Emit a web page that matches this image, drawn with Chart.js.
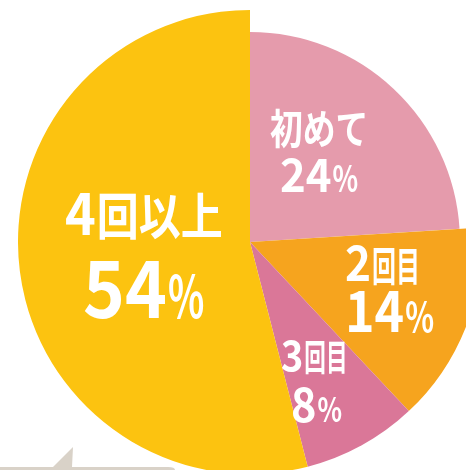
<!DOCTYPE html>
<html>
<head>
<meta charset="utf-8">
<script src="https://cdn.jsdelivr.net/npm/chart.js@4/dist/chart.umd.min.js"></script>
<style>
  html, body { margin: 0; padding: 0; background: #fff; }
  body { width: 466px; height: 470px; overflow: hidden; position: relative; }
  #deco { position: absolute; left: 0; top: 0; }
  #wrap { position: absolute; left: 18px; top: 10px; width: 464px; height: 464px; }
</style>
</head>
<body>
<svg id="deco" width="466" height="470">
  <path d="M0,467 L53,467 L73,447 L72,467 L168,467 Q175,467 175,470 L0,470 Z" fill="#D9D2C8"/>
</svg>
<div id="wrap"><canvas id="pie" width="464" height="464"></canvas></div>
<script>
// data
const categories = ["初めて", "2回目", "3回目", "4回以上"];
const values     = [24, 14, 8, 54];
const colors     = ["#E59BAC", "#F6A41E", "#DA7798", "#FCC310"];

// label placement, page coords (wrapper offset is taken off below)
// each font entry: [size px, horizontal scale]
const OFF_X = 18, OFF_Y = 10;
const labelStyle = [
    { x1: 270, y1: 144, x2: 280, y2: 192, head: [41, 0.8],  rest: [41, 0.8],  num: [46, 0.95], pct: [37, 0.72] },
    { x1: 345, y1: 281, x2: 345, y2: 332, head: [49, 0.9],  rest: [40, 0.6],  num: [57, 0.88], pct: [40, 0.75] },
    { x1: 281, y1: 371, x2: 291, y2: 422, head: [42, 0.9],  rest: [36, 0.6],  num: [47, 0.92], pct: [34, 0.75] },
    { x1: 65,  y1: 235, x2: 83,  y2: 318, head: [58, 0.9],  rest: [50, 0.84], num: [79, 0.9],  pct: [58, 0.65] }
];
const FONT = '"Noto Sans CJK JP", "Noto Sans", sans-serif';

// first slice is drawn with a smaller radius
const shrinkFirst = {
    id: "shrinkFirst",
    beforeDatasetsDraw(chart) {
        const meta = chart.getDatasetMeta(0);
        meta.data[0].outerRadius = meta.controller.outerRadius * 0.905;
    }
};

function drawRuns(ctx, runs, x, y) {
    let cx = x;
    runs.forEach((r) => {
        const size = r.f[0], sx = r.f[1];
        ctx.save();
        ctx.font = "bold " + size + "px " + FONT;
        ctx.translate(cx, y);
        ctx.scale(sx, 1);
        ctx.fillText(r.t, 0, 0);
        cx += ctx.measureText(r.t).width * sx + 1;
        ctx.restore();
    });
}

const sliceLabels = {
    id: "sliceLabels",
    afterDatasetsDraw(chart) {
        const ctx = chart.ctx;
        ctx.save();
        ctx.fillStyle = "#fff";
        ctx.textBaseline = "alphabetic";
        categories.forEach((name, i) => {
            const st = labelStyle[i];
            const m = name.match(/^(\d*)(.*)$/);
            const runs1 = m[1]
                ? [{ t: m[1], f: st.head }, { t: m[2], f: st.rest }]
                : [{ t: name, f: st.head }];
            drawRuns(ctx, runs1, st.x1 - OFF_X, st.y1 - OFF_Y);
            drawRuns(ctx, [{ t: String(values[i]), f: st.num }, { t: "%", f: st.pct }],
                     st.x2 - OFF_X, st.y2 - OFF_Y);
        });
        ctx.restore();
    }
};

new Chart(document.getElementById("pie"), {
    type: "pie",
    data: {
        labels: categories,
        datasets: [{
            data: values,
            backgroundColor: colors,
            borderWidth: 0
        }]
    },
    options: {
        responsive: false,
        animation: false,
        layout: { padding: 0 },
        plugins: {
            legend: { display: false },
            tooltip: { enabled: false }
        }
    },
    plugins: [shrinkFirst, sliceLabels]
});
</script>
</body>
</html>
